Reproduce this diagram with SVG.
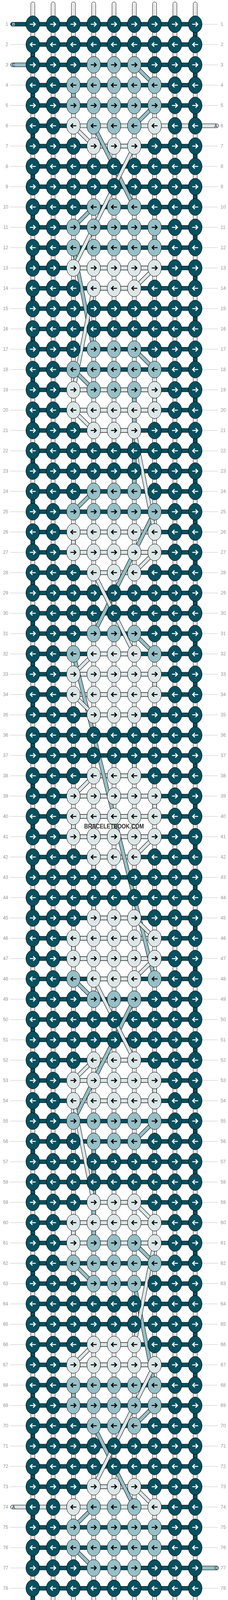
<svg xmlns="http://www.w3.org/2000/svg" xmlns:xlink="http://www.w3.org/1999/xlink" width="584" height="4180" viewBox="0 0 584 4180">
<style>
.d{fill:#07505f;stroke:#000;stroke-width:1}
.l{fill:#96bfc6;stroke:#000;stroke-width:1}
.w{fill:#dde7e8;stroke:#000;stroke-width:1}
.aw{stroke:#fff;fill:none;stroke-width:2.6}
.ab{stroke:#000;fill:none;stroke-width:2.6}
.nl{font-family:"Liberation Sans",Arial,sans-serif;font-size:12px;fill:#999;text-anchor:end}
.nr{font-family:"Liberation Sans",Arial,sans-serif;font-size:12px;fill:#999;text-anchor:start}
.st{font-family:"Liberation Sans",Arial,sans-serif;font-size:11px}
.gl{stroke:#c4c4c4;stroke-width:1;fill:none}
.wp{fill:#fff;stroke:#000;stroke-width:1}
.wi{stroke:#b0b0b0;stroke-width:0.8;fill:none}
.o{stroke:#000;stroke-width:10;fill:none}
.cl{stroke:#96bfc6;stroke-width:8;fill:none}
.cw{stroke:#dde7e8;stroke-width:8;fill:none}
</style>
<defs>
<path id="ar" d="M-7.5,0H6M1,-5.5L6.5,0L1,5.5"/>
<path id="al" d="M7.5,0H-6M-1,-5.5L-6.5,0L-1,5.5"/>
<g id="Df"><ellipse rx="17.5" ry="21.5" class="d"/><use href="#ar" class="aw"/></g>
<g id="Db"><ellipse rx="17.5" ry="21.5" class="d"/><use href="#al" class="aw"/></g>
<g id="Lf"><ellipse rx="17.5" ry="21.5" class="l"/><use href="#ar" class="ab"/></g>
<g id="Lb"><ellipse rx="17.5" ry="21.5" class="l"/><use href="#al" class="ab"/></g>
<g id="Wf"><ellipse rx="17.5" ry="21.5" class="w"/><use href="#ar" class="ab"/></g>
<g id="Wb"><ellipse rx="17.5" ry="21.5" class="w"/><use href="#al" class="ab"/></g>
<g id="Ef"><use href="#Df" x="84"/><use href="#Df" x="136"/><use href="#Df" x="448"/><use href="#Df" x="500"/></g>
<g id="Eb"><use href="#Db" x="84"/><use href="#Db" x="136"/><use href="#Db" x="448"/><use href="#Db" x="500"/></g>
<g id="P1f"><use href="#Ef"/><use href="#Df" x="188"/><use href="#Df" x="240"/><use href="#Df" x="292"/><use href="#Df" x="344"/><use href="#Df" x="396"/></g>
<g id="P1b"><use href="#Eb"/><use href="#Db" x="188"/><use href="#Db" x="240"/><use href="#Db" x="292"/><use href="#Db" x="344"/><use href="#Db" x="396"/></g>
<g id="P2f"><use href="#Ef"/><use href="#Df" x="188"/><use href="#Lf" x="240"/><use href="#Lf" x="292"/><use href="#Lf" x="344"/><use href="#Df" x="396"/></g>
<g id="P2b"><use href="#Eb"/><use href="#Db" x="188"/><use href="#Lb" x="240"/><use href="#Lb" x="292"/><use href="#Lb" x="344"/><use href="#Db" x="396"/></g>
<g id="P3f"><use href="#Ef"/><use href="#Lf" x="188"/><use href="#Lf" x="240"/><use href="#Lf" x="292"/><use href="#Lf" x="344"/><use href="#Lf" x="396"/></g>
<g id="P3b"><use href="#Eb"/><use href="#Lb" x="188"/><use href="#Lb" x="240"/><use href="#Lb" x="292"/><use href="#Lb" x="344"/><use href="#Lb" x="396"/></g>
<g id="P4f"><use href="#Ef"/><use href="#Wf" x="188"/><use href="#Lf" x="240"/><use href="#Lf" x="292"/><use href="#Lf" x="344"/><use href="#Wf" x="396"/></g>
<g id="P4b"><use href="#Eb"/><use href="#Wb" x="188"/><use href="#Lb" x="240"/><use href="#Lb" x="292"/><use href="#Lb" x="344"/><use href="#Wb" x="396"/></g>
<g id="P5f"><use href="#Ef"/><use href="#Df" x="188"/><use href="#Wf" x="240"/><use href="#Wf" x="292"/><use href="#Wf" x="344"/><use href="#Df" x="396"/></g>
<g id="P5b"><use href="#Eb"/><use href="#Db" x="188"/><use href="#Wb" x="240"/><use href="#Wb" x="292"/><use href="#Wb" x="344"/><use href="#Db" x="396"/></g>
<g id="P6f"><use href="#Ef"/><use href="#Wf" x="188"/><use href="#Wf" x="240"/><use href="#Wf" x="292"/><use href="#Wf" x="344"/><use href="#Wf" x="396"/></g>
<g id="P6b"><use href="#Eb"/><use href="#Wb" x="188"/><use href="#Wb" x="240"/><use href="#Wb" x="292"/><use href="#Wb" x="344"/><use href="#Wb" x="396"/></g>
<g id="P7b"><use href="#Eb"/><use href="#Lb" x="188"/><use href="#Wb" x="240"/><use href="#Wb" x="292"/><use href="#Wb" x="344"/><use href="#Lb" x="396"/></g>
<rect id="hd" x="84" y="-5" width="416" height="10" class="d"/>
<rect id="w37" x="188" y="-5" width="208" height="10" class="w"/>
<rect id="w46" x="240" y="-5" width="104" height="10" class="w"/>
<g id="bt"><rect x="495" y="77" width="10" height="22" class="d"/><rect x="79" y="129" width="10" height="22" class="d"/></g>
<path id="cpath" d="M344,166L396,218M396,270L344,322M240,322L344,530M240,530L188,582M188,634L240,894M344,894L396,946M188,946L240,998M240,1258L188,1310M396,1310L240,1622M344,1622L396,1674M188,1674L396,2506M188,2506L240,2558M344,2558L188,2870M396,2870L344,2922M344,3182L396,3234M188,3234L240,3286M344,3286L396,3546M396,3598L344,3650M240,3650L344,3858M240,3858L188,3910M188,3962L240,4014"/>
<path id="apath" d="M188,322L240,374M344,374L188,686M396,686L344,738M240,738L188,998M188,1050L240,1102M344,1102L396,1362M396,1414L344,1466M240,1466L344,1674M240,1674L188,1726M188,1778L240,1830M240,1986L188,2038M396,2142L344,2194M344,2350L396,2402M396,2454L344,2506M240,2506L344,2714M240,2714L188,2766M188,2818L240,3078M344,3078L396,3130M396,3182L344,3442M240,3442L188,3494M396,3494L240,3806M344,3806L396,3858"/>
</defs>

<g id="label-lines">
<path class="gl" d="M518,62H558M26,114H66M518,114H558M518,166H558M26,218H66M518,218H558M26,270H66M518,270H558M26,322H66M26,374H66M518,374H558M26,426H66M518,426H558M26,478H66M518,478H558M26,530H66M518,530H558M26,582H66M518,582H558M26,634H66M518,634H558M26,686H66M518,686H558M26,738H66M518,738H558M26,790H66M518,790H558M26,842H66M518,842H558M26,894H66M518,894H558M26,946H66M518,946H558M26,998H66M518,998H558M26,1050H66M518,1050H558M26,1102H66M518,1102H558M26,1154H66M518,1154H558M26,1206H66M518,1206H558M26,1258H66M518,1258H558M26,1310H66M518,1310H558M26,1362H66M518,1362H558M26,1414H66M518,1414H558M26,1466H66M518,1466H558M26,1518H66M518,1518H558M26,1570H66M518,1570H558M26,1622H66M518,1622H558M26,1674H66M518,1674H558M26,1726H66M518,1726H558M26,1778H66M518,1778H558M26,1830H66M518,1830H558M26,1882H66M518,1882H558M26,1934H66M518,1934H558M26,1986H66M518,1986H558M26,2038H66M518,2038H558M26,2090H66M518,2090H558M26,2142H66M518,2142H558M26,2194H66M518,2194H558M26,2246H66M518,2246H558M26,2298H66M518,2298H558M26,2350H66M518,2350H558M26,2402H66M518,2402H558M26,2454H66M518,2454H558M26,2506H66M518,2506H558M26,2558H66M518,2558H558M26,2610H66M518,2610H558M26,2662H66M518,2662H558M26,2714H66M518,2714H558M26,2766H66M518,2766H558M26,2818H66M518,2818H558M26,2870H66M518,2870H558M26,2922H66M518,2922H558M26,2974H66M518,2974H558M26,3026H66M518,3026H558M26,3078H66M518,3078H558M26,3130H66M518,3130H558M26,3182H66M518,3182H558M26,3234H66M518,3234H558M26,3286H66M518,3286H558M26,3338H66M518,3338H558M26,3390H66M518,3390H558M26,3442H66M518,3442H558M26,3494H66M518,3494H558M26,3546H66M518,3546H558M26,3598H66M518,3598H558M26,3650H66M518,3650H558M26,3702H66M518,3702H558M26,3754H66M518,3754H558M26,3806H66M518,3806H558M518,3858H558M26,3910H66M518,3910H558M26,3962H66M518,3962H558M26,4014H66M26,4066H66M518,4066H558M26,4118H66"/>
</g>

<g id="row-numbers">
<text x="21" y="66" class="nl">1</text><text x="565" y="66" class="nr">1</text>
<text x="21" y="118" class="nl">2</text><text x="565" y="118" class="nr">2</text>
<text x="21" y="170" class="nl">3</text><text x="565" y="170" class="nr">3</text>
<text x="21" y="222" class="nl">4</text><text x="565" y="222" class="nr">4</text>
<text x="21" y="274" class="nl">5</text><text x="565" y="274" class="nr">5</text>
<text x="21" y="326" class="nl">6</text><text x="565" y="326" class="nr">6</text>
<text x="21" y="378" class="nl">7</text><text x="565" y="378" class="nr">7</text>
<text x="21" y="430" class="nl">8</text><text x="565" y="430" class="nr">8</text>
<text x="21" y="482" class="nl">9</text><text x="565" y="482" class="nr">9</text>
<text x="21" y="534" class="nl">10</text><text x="565" y="534" class="nr">10</text>
<text x="21" y="586" class="nl">11</text><text x="565" y="586" class="nr">11</text>
<text x="21" y="638" class="nl">12</text><text x="565" y="638" class="nr">12</text>
<text x="21" y="690" class="nl">13</text><text x="565" y="690" class="nr">13</text>
<text x="21" y="742" class="nl">14</text><text x="565" y="742" class="nr">14</text>
<text x="21" y="794" class="nl">15</text><text x="565" y="794" class="nr">15</text>
<text x="21" y="846" class="nl">16</text><text x="565" y="846" class="nr">16</text>
<text x="21" y="898" class="nl">17</text><text x="565" y="898" class="nr">17</text>
<text x="21" y="950" class="nl">18</text><text x="565" y="950" class="nr">18</text>
<text x="21" y="1002" class="nl">19</text><text x="565" y="1002" class="nr">19</text>
<text x="21" y="1054" class="nl">20</text><text x="565" y="1054" class="nr">20</text>
<text x="21" y="1106" class="nl">21</text><text x="565" y="1106" class="nr">21</text>
<text x="21" y="1158" class="nl">22</text><text x="565" y="1158" class="nr">22</text>
<text x="21" y="1210" class="nl">23</text><text x="565" y="1210" class="nr">23</text>
<text x="21" y="1262" class="nl">24</text><text x="565" y="1262" class="nr">24</text>
<text x="21" y="1314" class="nl">25</text><text x="565" y="1314" class="nr">25</text>
<text x="21" y="1366" class="nl">26</text><text x="565" y="1366" class="nr">26</text>
<text x="21" y="1418" class="nl">27</text><text x="565" y="1418" class="nr">27</text>
<text x="21" y="1470" class="nl">28</text><text x="565" y="1470" class="nr">28</text>
<text x="21" y="1522" class="nl">29</text><text x="565" y="1522" class="nr">29</text>
<text x="21" y="1574" class="nl">30</text><text x="565" y="1574" class="nr">30</text>
<text x="21" y="1626" class="nl">31</text><text x="565" y="1626" class="nr">31</text>
<text x="21" y="1678" class="nl">32</text><text x="565" y="1678" class="nr">32</text>
<text x="21" y="1730" class="nl">33</text><text x="565" y="1730" class="nr">33</text>
<text x="21" y="1782" class="nl">34</text><text x="565" y="1782" class="nr">34</text>
<text x="21" y="1834" class="nl">35</text><text x="565" y="1834" class="nr">35</text>
<text x="21" y="1886" class="nl">36</text><text x="565" y="1886" class="nr">36</text>
<text x="21" y="1938" class="nl">37</text><text x="565" y="1938" class="nr">37</text>
<text x="21" y="1990" class="nl">38</text><text x="565" y="1990" class="nr">38</text>
<text x="21" y="2042" class="nl">39</text><text x="565" y="2042" class="nr">39</text>
<text x="21" y="2094" class="nl">40</text><text x="565" y="2094" class="nr">40</text>
<text x="21" y="2146" class="nl">41</text><text x="565" y="2146" class="nr">41</text>
<text x="21" y="2198" class="nl">42</text><text x="565" y="2198" class="nr">42</text>
<text x="21" y="2250" class="nl">43</text><text x="565" y="2250" class="nr">43</text>
<text x="21" y="2302" class="nl">44</text><text x="565" y="2302" class="nr">44</text>
<text x="21" y="2354" class="nl">45</text><text x="565" y="2354" class="nr">45</text>
<text x="21" y="2406" class="nl">46</text><text x="565" y="2406" class="nr">46</text>
<text x="21" y="2458" class="nl">47</text><text x="565" y="2458" class="nr">47</text>
<text x="21" y="2510" class="nl">48</text><text x="565" y="2510" class="nr">48</text>
<text x="21" y="2562" class="nl">49</text><text x="565" y="2562" class="nr">49</text>
<text x="21" y="2614" class="nl">50</text><text x="565" y="2614" class="nr">50</text>
<text x="21" y="2666" class="nl">51</text><text x="565" y="2666" class="nr">51</text>
<text x="21" y="2718" class="nl">52</text><text x="565" y="2718" class="nr">52</text>
<text x="21" y="2770" class="nl">53</text><text x="565" y="2770" class="nr">53</text>
<text x="21" y="2822" class="nl">54</text><text x="565" y="2822" class="nr">54</text>
<text x="21" y="2874" class="nl">55</text><text x="565" y="2874" class="nr">55</text>
<text x="21" y="2926" class="nl">56</text><text x="565" y="2926" class="nr">56</text>
<text x="21" y="2978" class="nl">57</text><text x="565" y="2978" class="nr">57</text>
<text x="21" y="3030" class="nl">58</text><text x="565" y="3030" class="nr">58</text>
<text x="21" y="3082" class="nl">59</text><text x="565" y="3082" class="nr">59</text>
<text x="21" y="3134" class="nl">60</text><text x="565" y="3134" class="nr">60</text>
<text x="21" y="3186" class="nl">61</text><text x="565" y="3186" class="nr">61</text>
<text x="21" y="3238" class="nl">62</text><text x="565" y="3238" class="nr">62</text>
<text x="21" y="3290" class="nl">63</text><text x="565" y="3290" class="nr">63</text>
<text x="21" y="3342" class="nl">64</text><text x="565" y="3342" class="nr">64</text>
<text x="21" y="3394" class="nl">65</text><text x="565" y="3394" class="nr">65</text>
<text x="21" y="3446" class="nl">66</text><text x="565" y="3446" class="nr">66</text>
<text x="21" y="3498" class="nl">67</text><text x="565" y="3498" class="nr">67</text>
<text x="21" y="3550" class="nl">68</text><text x="565" y="3550" class="nr">68</text>
<text x="21" y="3602" class="nl">69</text><text x="565" y="3602" class="nr">69</text>
<text x="21" y="3654" class="nl">70</text><text x="565" y="3654" class="nr">70</text>
<text x="21" y="3706" class="nl">71</text><text x="565" y="3706" class="nr">71</text>
<text x="21" y="3758" class="nl">72</text><text x="565" y="3758" class="nr">72</text>
<text x="21" y="3810" class="nl">73</text><text x="565" y="3810" class="nr">73</text>
<text x="21" y="3862" class="nl">74</text><text x="565" y="3862" class="nr">74</text>
<text x="21" y="3914" class="nl">75</text><text x="565" y="3914" class="nr">75</text>
<text x="21" y="3966" class="nl">76</text><text x="565" y="3966" class="nr">76</text>
<text x="21" y="4018" class="nl">77</text><text x="565" y="4018" class="nr">77</text>
<text x="21" y="4070" class="nl">78</text><text x="565" y="4070" class="nr">78</text>
<text x="21" y="4122" class="nl">79</text><text x="565" y="4122" class="nr">79</text>
</g>

<g id="warp">
<rect x="79" y="5" width="10" height="4170" rx="5" class="wp"/>
<rect x="131" y="5" width="10" height="4170" rx="5" class="wp"/>
<rect x="183" y="5" width="10" height="4170" rx="5" class="wp"/>
<rect x="235" y="5" width="10" height="4170" rx="5" class="wp"/>
<rect x="287" y="5" width="10" height="4170" rx="5" class="wp"/>
<rect x="339" y="5" width="10" height="4170" rx="5" class="wp"/>
<rect x="391" y="5" width="10" height="4170" rx="5" class="wp"/>
<rect x="443" y="5" width="10" height="4170" rx="5" class="wp"/>
<rect x="495" y="5" width="10" height="4170" rx="5" class="wp"/>
<path class="wi" d="M82.7,10V4170M85.3,10V4170M134.7,10V4170M137.3,10V4170M186.7,10V4170M189.3,10V4170M238.7,10V4170M241.3,10V4170M290.7,10V4170M293.3,10V4170M342.7,10V4170M345.3,10V4170M394.7,10V4170M397.3,10V4170M446.7,10V4170M449.3,10V4170M498.7,10V4170M501.3,10V4170"/>
</g>

<g id="connectors">
<g id="row-links">
<rect x="27" y="57" width="473" height="10" rx="5" class="d"/>
<text x="31" y="66" class="st" fill="#fff">B</text>
<use href="#hd" y="114"/>
<rect x="27" y="161" width="62" height="10" rx="5" class="l"/>
<text x="31" y="170" class="st" fill="#222">C</text>
<use href="#hd" y="166"/>
<use href="#hd" y="218"/>
<use href="#hd" y="270"/>
<rect x="84" y="317" width="104" height="10" class="d"/>
<rect x="188" y="317" width="372" height="10" rx="5" class="w"/>
<text x="549" y="326" class="st" fill="#222">A</text>
<use href="#hd" y="374"/><use href="#hd" y="426"/><use href="#hd" y="478"/><use href="#hd" y="530"/><use href="#hd" y="582"/><use href="#hd" y="634"/><use href="#hd" y="686"/><use href="#hd" y="738"/><use href="#hd" y="790"/><use href="#hd" y="842"/><use href="#hd" y="894"/><use href="#hd" y="946"/><use href="#hd" y="998"/><use href="#hd" y="1050"/><use href="#hd" y="1102"/><use href="#hd" y="1154"/><use href="#hd" y="1206"/><use href="#hd" y="1258"/><use href="#hd" y="1310"/><use href="#hd" y="1362"/><use href="#hd" y="1414"/><use href="#hd" y="1466"/><use href="#hd" y="1518"/><use href="#hd" y="1570"/><use href="#hd" y="1622"/><use href="#hd" y="1674"/><use href="#hd" y="1726"/><use href="#hd" y="1778"/><use href="#hd" y="1830"/><use href="#hd" y="1882"/><use href="#hd" y="1934"/><use href="#hd" y="1986"/><use href="#hd" y="2038"/><use href="#hd" y="2090"/><use href="#hd" y="2142"/><use href="#hd" y="2194"/><use href="#hd" y="2246"/><use href="#hd" y="2298"/><use href="#hd" y="2350"/><use href="#hd" y="2402"/><use href="#hd" y="2454"/><use href="#hd" y="2506"/><use href="#hd" y="2558"/><use href="#hd" y="2610"/><use href="#hd" y="2662"/><use href="#hd" y="2714"/><use href="#hd" y="2766"/><use href="#hd" y="2818"/><use href="#hd" y="2870"/><use href="#hd" y="2922"/><use href="#hd" y="2974"/><use href="#hd" y="3026"/><use href="#hd" y="3078"/><use href="#hd" y="3130"/><use href="#hd" y="3182"/><use href="#hd" y="3234"/><use href="#hd" y="3286"/><use href="#hd" y="3338"/><use href="#hd" y="3390"/><use href="#hd" y="3442"/><use href="#hd" y="3494"/><use href="#hd" y="3546"/><use href="#hd" y="3598"/><use href="#hd" y="3650"/><use href="#hd" y="3702"/><use href="#hd" y="3754"/><use href="#hd" y="3806"/>
<rect x="27" y="3853" width="369" height="10" rx="5" class="w"/>
<rect x="396" y="3853" width="104" height="10" class="d"/>
<text x="31" y="3862" class="st" fill="#222">A</text>
<use href="#hd" y="3910"/><use href="#hd" y="3962"/><use href="#hd" y="4014"/><use href="#hd" y="4066"/>
<rect x="495" y="4009" width="65" height="10" rx="5" class="l"/>
<text x="549" y="4018" class="st" fill="#222">C</text>
<rect x="84" y="4113" width="476" height="10" rx="5" class="d"/>
<text x="549" y="4122" class="st" fill="#fff">B</text>
<use href="#w37" y="686"/><use href="#w37" y="998"/><use href="#w37" y="1050"/><use href="#w37" y="1362"/><use href="#w37" y="1414"/><use href="#w37" y="1726"/><use href="#w37" y="1778"/><use href="#w37" y="2038"/><use href="#w37" y="2090"/><use href="#w37" y="2142"/><use href="#w37" y="2402"/><use href="#w37" y="2454"/><use href="#w37" y="2766"/><use href="#w37" y="2818"/><use href="#w37" y="3130"/><use href="#w37" y="3182"/><use href="#w37" y="3494"/>
<use href="#w46" y="374"/><use href="#w46" y="738"/><use href="#w46" y="1102"/><use href="#w46" y="1466"/><use href="#w46" y="1674"/><use href="#w46" y="1830"/><use href="#w46" y="1986"/><use href="#w46" y="2194"/><use href="#w46" y="2350"/><use href="#w46" y="2506"/><use href="#w46" y="2714"/><use href="#w46" y="3078"/><use href="#w46" y="3442"/><use href="#w46" y="3806"/>
</g>
<g id="turns">
<use href="#bt" y="0"/><use href="#bt" y="104"/><use href="#bt" y="208"/><use href="#bt" y="312"/><use href="#bt" y="416"/><use href="#bt" y="520"/><use href="#bt" y="624"/><use href="#bt" y="728"/><use href="#bt" y="832"/><use href="#bt" y="936"/><use href="#bt" y="1040"/><use href="#bt" y="1144"/><use href="#bt" y="1248"/><use href="#bt" y="1352"/><use href="#bt" y="1456"/><use href="#bt" y="1560"/><use href="#bt" y="1664"/><use href="#bt" y="1768"/><use href="#bt" y="1872"/><use href="#bt" y="1976"/><use href="#bt" y="2080"/><use href="#bt" y="2184"/><use href="#bt" y="2288"/><use href="#bt" y="2392"/><use href="#bt" y="2496"/><use href="#bt" y="2600"/><use href="#bt" y="2704"/><use href="#bt" y="2808"/><use href="#bt" y="2912"/><use href="#bt" y="3016"/><use href="#bt" y="3120"/><use href="#bt" y="3224"/><use href="#bt" y="3328"/><use href="#bt" y="3432"/><use href="#bt" y="3536"/><use href="#bt" y="3640"/><use href="#bt" y="3744"/><use href="#bt" y="3848"/><use href="#bt" y="3952"/>
</g>
<g id="vertical-carries">
<rect x="183" y="233" width="10" height="22" class="l"/>
<rect x="391" y="597" width="10" height="22" class="l"/>
<rect x="339" y="1013" width="10" height="230" class="l"/>
<rect x="235" y="2937" width="10" height="230" class="l"/>
<rect x="183" y="3561" width="10" height="22" class="l"/>
<rect x="391" y="3925" width="10" height="22" class="l"/>
<rect x="391" y="1013" width="10" height="22" class="w"/>
<rect x="183" y="1377" width="10" height="22" class="w"/>
<rect x="391" y="1741" width="10" height="22" class="w"/>
<rect x="339" y="1845" width="10" height="126" class="w"/>
<rect x="391" y="2053" width="10" height="22" class="w"/>
<rect x="183" y="2105" width="10" height="22" class="w"/>
<rect x="235" y="2209" width="10" height="126" class="w"/>
<rect x="183" y="2417" width="10" height="22" class="w"/>
<rect x="391" y="2781" width="10" height="22" class="w"/>
<rect x="183" y="3145" width="10" height="22" class="w"/>
</g>
<g id="diagonal-carries">
<use href="#cpath" class="o"/><use href="#cpath" class="cl"/>
<use href="#apath" class="o"/><use href="#apath" class="cw"/>
</g>
</g>

<g id="knots">
<use id="row-1" href="#P1f" y="62"/>
<use id="row-2" href="#P1b" y="114"/>
<use id="row-3" href="#P2f" y="166"/>
<use id="row-4" href="#P3b" y="218"/>
<use id="row-5" href="#P3f" y="270"/>
<use id="row-6" href="#P4b" y="322"/>
<use id="row-7" href="#P5f" y="374"/>
<use id="row-8" href="#P1b" y="426"/>
<use id="row-9" href="#P1f" y="478"/>
<use id="row-10" href="#P2b" y="530"/>
<use id="row-11" href="#P3f" y="582"/>
<use id="row-12" href="#P3b" y="634"/>
<use id="row-13" href="#P6f" y="686"/>
<use id="row-14" href="#P5b" y="738"/>
<use id="row-15" href="#P1f" y="790"/>
<use id="row-16" href="#P1b" y="842"/>
<use id="row-17" href="#P2f" y="894"/>
<use id="row-18" href="#P3b" y="946"/>
<use id="row-19" href="#P4f" y="998"/>
<use id="row-20" href="#P6b" y="1050"/>
<use id="row-21" href="#P5f" y="1102"/>
<use id="row-22" href="#P1b" y="1154"/>
<use id="row-23" href="#P1f" y="1206"/>
<use id="row-24" href="#P2b" y="1258"/>
<use id="row-25" href="#P3f" y="1310"/>
<use id="row-26" href="#P6b" y="1362"/>
<use id="row-27" href="#P6f" y="1414"/>
<use id="row-28" href="#P5b" y="1466"/>
<use id="row-29" href="#P1f" y="1518"/>
<use id="row-30" href="#P1b" y="1570"/>
<use id="row-31" href="#P2f" y="1622"/>
<use id="row-32" href="#P7b" y="1674"/>
<use id="row-33" href="#P6f" y="1726"/>
<use id="row-34" href="#P6b" y="1778"/>
<use id="row-35" href="#P5f" y="1830"/>
<use id="row-36" href="#P1b" y="1882"/>
<use id="row-37" href="#P1f" y="1934"/>
<use id="row-38" href="#P5b" y="1986"/>
<use id="row-39" href="#P6f" y="2038"/>
<use id="row-40" href="#P6b" y="2090"/>
<use id="row-41" href="#P6f" y="2142"/>
<use id="row-42" href="#P5b" y="2194"/>
<use id="row-43" href="#P1f" y="2246"/>
<use id="row-44" href="#P1b" y="2298"/>
<use id="row-45" href="#P5f" y="2350"/>
<use id="row-46" href="#P6b" y="2402"/>
<use id="row-47" href="#P6f" y="2454"/>
<use id="row-48" href="#P7b" y="2506"/>
<use id="row-49" href="#P2f" y="2558"/>
<use id="row-50" href="#P1b" y="2610"/>
<use id="row-51" href="#P1f" y="2662"/>
<use id="row-52" href="#P5b" y="2714"/>
<use id="row-53" href="#P6f" y="2766"/>
<use id="row-54" href="#P6b" y="2818"/>
<use id="row-55" href="#P3f" y="2870"/>
<use id="row-56" href="#P2b" y="2922"/>
<use id="row-57" href="#P1f" y="2974"/>
<use id="row-58" href="#P1b" y="3026"/>
<use id="row-59" href="#P5f" y="3078"/>
<use id="row-60" href="#P6b" y="3130"/>
<use id="row-61" href="#P4f" y="3182"/>
<use id="row-62" href="#P3b" y="3234"/>
<use id="row-63" href="#P2f" y="3286"/>
<use id="row-64" href="#P1b" y="3338"/>
<use id="row-65" href="#P1f" y="3390"/>
<use id="row-66" href="#P5b" y="3442"/>
<use id="row-67" href="#P6f" y="3494"/>
<use id="row-68" href="#P3b" y="3546"/>
<use id="row-69" href="#P3f" y="3598"/>
<use id="row-70" href="#P2b" y="3650"/>
<use id="row-71" href="#P1f" y="3702"/>
<use id="row-72" href="#P1b" y="3754"/>
<use id="row-73" href="#P5f" y="3806"/>
<use id="row-74" href="#P4b" y="3858"/>
<use id="row-75" href="#P3f" y="3910"/>
<use id="row-76" href="#P3b" y="3962"/>
<use id="row-77" href="#P2f" y="4014"/>
<use id="row-78" href="#P1b" y="4066"/>
<use id="row-79" href="#P1f" y="4118"/>
</g>

<text id="watermark" x="292" y="2121" text-anchor="middle" font-family="'Liberation Sans',Arial,sans-serif" font-weight="bold" font-size="16" fill="#333" textLength="153" lengthAdjust="spacingAndGlyphs">BRACELETBOOK.COM</text>
</svg>
